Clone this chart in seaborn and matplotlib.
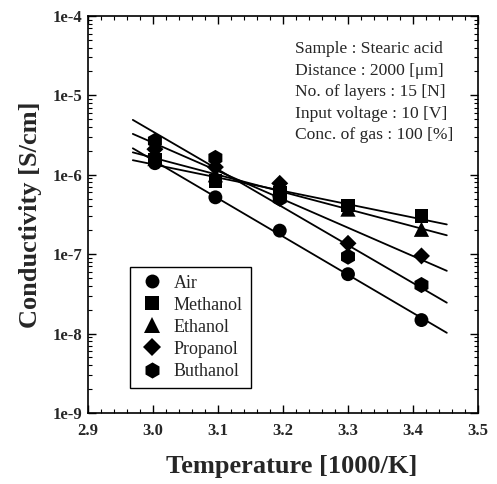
import numpy as np
import pandas as pd
import matplotlib
matplotlib.use("Agg")
import matplotlib.pyplot as plt
import seaborn as sns
from matplotlib.ticker import FuncFormatter, LogLocator, MultipleLocator, NullFormatter, FixedLocator

# Inverse temperature [1000/K] of the measurement points
inv_temp = [3.003, 3.096, 3.195, 3.300, 3.413]

# Conductivity [S/cm] for each gas atmosphere
gases = ["Air", "Methanol", "Ethanol", "Propanol", "Buthanol"]
air = [1.40e-6, 5.2e-7, 1.98e-7, 5.6e-8, 1.48e-8]
methanol = [1.55e-6, 8.3e-7, 5.9e-7, 4.08e-7, 3.03e-7]
ethanol = [1.60e-6, 1.0e-6, 6.5e-7, 3.7e-7, 2.06e-7]
propanol = [2.10e-6, 1.25e-6, 7.8e-7, 1.37e-7, 9.5e-8]
buthanol = [2.67e-6, 1.63e-6, 5.0e-7, 9.3e-8, 4.09e-8]
series = [air, methanol, ethanol, propanol, buthanol]

markers = {"Air": "o", "Methanol": "s", "Ethanol": "^", "Propanol": "D", "Buthanol": "h"}
marker_area = {"Air": 100, "Methanol": 95, "Ethanol": 120, "Propanol": 75, "Buthanol": 135}
fit_range = (2.969, 3.452)

info_lines = [
    "Sample : Stearic acid",
    "Distance : 2000 [\u03bcm]",
    "No. of layers : 15 [N]",
    "Input voltage : 10 [V]",
    "Conc. of gas : 100 [%]",
]

df = pd.DataFrame({
    "inv_temp": np.tile(inv_temp, len(gases)),
    "cond": np.concatenate(series),
    "gas": np.repeat(gases, len(inv_temp)),
})

sns.set_style("ticks")
plt.rcParams["font.family"] = ["Liberation Serif", "DejaVu Serif"]

fig = plt.figure(figsize=(4.97, 4.84), dpi=100)
ax = fig.add_axes([0.177, 0.1467, 0.7848, 0.8203])

# Arrhenius fit lines (linear in log10 conductivity)
for vals in series:
    coef = np.polyfit(inv_temp, np.log10(vals), 1)
    xs = np.linspace(fit_range[0], fit_range[1], 60)
    sns.lineplot(x=xs, y=10 ** np.polyval(coef, xs), color="black", lw=1.3,
                 ax=ax, legend=False, zorder=2)

sns.scatterplot(data=df, x="inv_temp", y="cond", style="gas", markers=markers,
                hue="gas", palette={g: "black" for g in gases},
                size="gas", sizes=marker_area,
                linewidth=0, ax=ax, zorder=3, legend="full")

ax.set_yscale("log")
ax.set_xlim(2.9, 3.5)
ax.set_ylim(1e-9, 1e-4)

ax.xaxis.set_major_locator(MultipleLocator(0.1))
ax.xaxis.set_minor_locator(MultipleLocator(0.02))
ax.xaxis.set_major_formatter(FuncFormatter(lambda v, p: f"{v:.1f}"))
ax.yaxis.set_major_locator(FixedLocator([10.0 ** k for k in range(-9, -3)]))
ax.yaxis.set_minor_locator(LogLocator(base=10, subs=np.arange(2, 10)))
ax.yaxis.set_minor_formatter(NullFormatter())
ax.yaxis.set_major_formatter(FuncFormatter(lambda v, p: f"1e{int(round(np.log10(v)))}"))

ax.tick_params(which="both", direction="in", top=True, right=True, color="black")
ax.tick_params(which="major", length=6, width=1.0)
ax.tick_params(which="minor", length=3, width=0.8)
ax.tick_params(axis="x", which="major", pad=7)
ax.tick_params(axis="y", which="major", pad=4)
for lab in ax.get_xticklabels() + ax.get_yticklabels():
    lab.set_fontsize(12)
    lab.set_fontweight("bold")

for sp in ax.spines.values():
    sp.set_linewidth(1.2)
    sp.set_color("black")

ax.set_xlabel("Temperature [1000/K]", fontsize=19, fontweight="bold")
ax.xaxis.set_label_coords(0.523, -0.105)
ax.set_ylabel("Conductivity [S/cm]", fontsize=19, fontweight="bold", labelpad=8)

handles, labels = ax.get_legend_handles_labels()
pairs = [(h, l) for h, l in zip(handles, labels) if l in gases]
leg = ax.legend([h for h, _ in pairs], [l for _, l in pairs], loc="lower left",
                bbox_to_anchor=(0.108, 0.063), borderaxespad=0, frameon=True,
                fancybox=False, edgecolor="black", framealpha=1, fontsize=13,
                handletextpad=0.45, labelspacing=0.28, borderpad=0.45,
                handlelength=1.5)
leg.get_frame().set_linewidth(1.0)

ax.text(0.531, 0.936, "\n".join(info_lines), transform=ax.transAxes,
        ha="left", va="top", fontsize=12.6, linespacing=1.45)

fig.savefig("out.png", dpi=100)
